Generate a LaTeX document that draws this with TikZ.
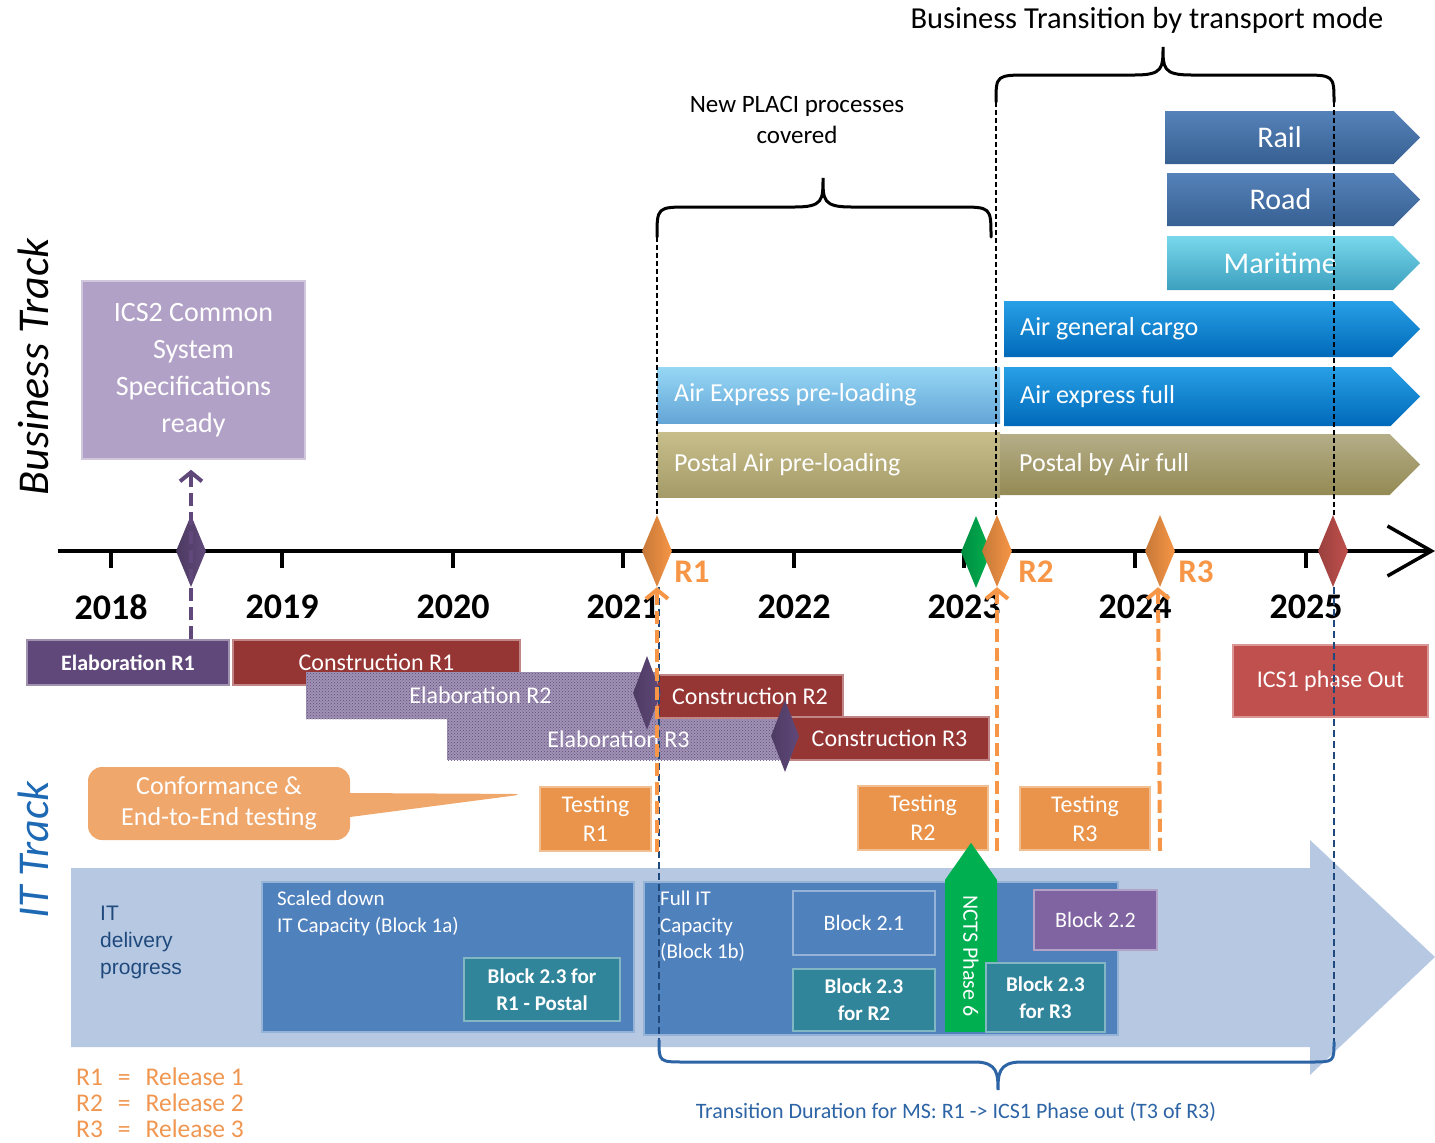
\documentclass[tikz,border=0pt]{standalone}
\usepackage{fontspec}
\setmainfont{Carlito}
\newfontfamily\arialfont{Liberation Sans}
\usetikzlibrary{shapes.geometric,shapes.symbols,shapes.callouts,arrows.meta,patterns}
\definecolor{icsviolet}{RGB}{178,161,199}
\definecolor{elabpurple}{RGB}{96,73,122}
\definecolor{elabgrey}{RGB}{120,100,150}
\definecolor{consred}{RGB}{150,54,52}
\definecolor{phasered}{RGB}{192,80,77}
\definecolor{testorange}{RGB}{233,148,74}
\definecolor{calloutorange}{RGB}{239,167,108}
\definecolor{relorange}{RGB}{247,150,70}
\definecolor{nctsgreen}{RGB}{0,176,80}
\definecolor{railblue}{RGB}{55,96,146}
\definecolor{railtop}{RGB}{85,130,185}
\definecolor{maritop}{RGB}{120,215,235}
\definecolor{maribot}{RGB}{60,160,190}
\definecolor{airblue}{RGB}{0,105,185}
\definecolor{airtop}{RGB}{40,160,230}
\definecolor{expresstop}{RGB}{150,215,245}
\definecolor{expressbot}{RGB}{100,165,215}
\definecolor{postaltop}{RGB}{200,190,140}
\definecolor{postalbot}{RGB}{165,155,105}
\definecolor{postalfull}{RGB}{148,138,84}
\definecolor{itback}{RGB}{183,201,226}
\definecolor{itbox}{RGB}{79,129,189}
\definecolor{blockteal}{RGB}{49,133,155}
\definecolor{blockviolet}{RGB}{128,100,162}
\definecolor{itnavy}{RGB}{31,73,125}
\definecolor{bracenavy}{RGB}{45,100,165}
\definecolor{legendorange}{RGB}{240,150,80}
\definecolor{tracktext}{RGB}{30,105,180}

\begin{document}
\begin{tikzpicture}[x=1pt,y=-1pt,
  box/.style={draw=#1!60!white,fill=#1,line width=1.5pt,text=white,align=center,inner sep=0pt},
  elab/.style={preaction={fill=elabgrey!70!white},pattern=crosshatch dots,pattern color=elabpurple,text=white,inner sep=0pt},
  mile/.style={shape=diamond,inner sep=0pt,minimum width=30pt,minimum height=72pt,left color=#1!80!black,right color=#1},
  banner/.style={shape=signal,signal to=east,signal pointer angle=90,inner sep=0pt,text=white,anchor=west},
  plainbar/.style={rectangle,inner sep=0pt,anchor=west},
  bantxt/.style={text=white,anchor=west,inner sep=0pt,font=\fontsize{26}{30}\selectfont},
  yr/.style={font=\fontsize{36}{40}\selectfont\bfseries},
  rel/.style={text=relorange,font=\fontsize{33}{36}\selectfont\bfseries},
  reldash/.style={relorange,line width=4pt,dash pattern=on 13pt off 6pt,-{Straight Barb[length=9pt,width=22pt,line width=4pt]}},
  thindash/.style={black,line width=1.3pt,dash pattern=on 5pt off 3pt},
  navydash/.style={itnavy,line width=2pt,dash pattern=on 7pt off 4pt},
  brc/.style={line width=3pt,line cap=round}]
\useasboundingbox (0,0) rectangle (1435,1143);

% IT delivery arrow in the background
\fill[itback] (71,868) -- (1310,868) -- (1310,840) -- (1435,957) -- (1310,1075) -- (1310,1047) -- (71,1047) -- cycle;

% track titles
\node[rotate=90,font=\fontsize{44}{48}\selectfont\itshape] (bt) at (33,367) {Business Track};
\node[rotate=90,text=tracktext,font=\fontsize{44}{48}\selectfont\itshape] (itt) at (33,850) {IT Track};

% headings and braces
\node[font=\fontsize{30.5}{34}\selectfont] (trans) at (1147,20) {Business Transition by transport mode};
\node[font=\fontsize{25}{31}\selectfont,align=center] (placi) at (797,120) {New PLACI processes\\covered};
\draw[brc] (657,237) .. controls (657,207) .. (690,207) -- (795,207) .. controls (823,207) and (823,200) .. (823,178)
  .. controls (823,200) and (823,207) .. (851,207) -- (958,207) .. controls (991,207) .. (991,237);
\draw[brc] (996,102) .. controls (996,75) .. (1030,75) -- (1135,75) .. controls (1163,75) and (1163,68) .. (1163,47)
  .. controls (1163,68) and (1163,75) .. (1191,75) -- (1300,75) .. controls (1334,75) .. (1334,102);
\coordinate (pl) at (657,237);
\coordinate (tr1) at (996,102);
\coordinate (tr2) at (1334,102);

% business transition bars
\node[plainbar,top color=expresstop,bottom color=expressbot,minimum width=343pt,minimum height=56pt] (aexp) at (657,395) {};
\node[plainbar,top color=postaltop,bottom color=postalbot,minimum width=343pt,minimum height=65pt] (ppre) at (657,464.5) {};
\node[banner,top color=railtop,bottom color=railblue,minimum width=255pt,minimum height=53pt,font=\fontsize{30}{34}\selectfont] (rail) at (1165,137.5) {Rail};
\node[banner,top color=railtop,bottom color=railblue,minimum width=253pt,minimum height=53pt,font=\fontsize{30}{34}\selectfont] (road) at (1167,199.5) {Road};
\node[banner,top color=maritop,bottom color=maribot,minimum width=253pt,minimum height=54pt,font=\fontsize{30}{34}\selectfont] (mari) at (1167,263) {Maritime};
\node[banner,top color=airtop,bottom color=airblue,minimum width=416pt,minimum height=56pt] (airc) at (1004,329) {};
\node[banner,top color=airtop,bottom color=airblue,minimum width=416pt,minimum height=59pt] (airx) at (1004,396.5) {};
\node[banner,top color=postalfull!70!white,bottom color=postalfull,minimum width=420pt,minimum height=61pt] (pfull) at (1000,464.5) {};
\node[bantxt] (aexpT) at ([xshift=17pt]aexp.west) {Air Express pre-loading};
\node[bantxt] (ppreT) at ([xshift=17pt]ppre.west) {Postal Air pre-loading};
\node[bantxt] (aircT) at ([xshift=16pt]airc.west) {Air general cargo};
\node[bantxt] (airxT) at ([xshift=16pt]airx.west) {Air express full};
\node[bantxt] (pfullT) at ([xshift=19pt]pfull.west) {Postal by Air full};

% ICS2 specifications
\node[box=icsviolet,minimum width=223pt,minimum height=178pt,font=\fontsize{28}{37}\selectfont] (ics2) at (193.5,370) {ICS2 Common\\System\\Specifications\\ready};

% timeline
\draw[line width=3.5pt,-{Straight Barb[length=44pt,width=50pt,line width=3.5pt]}] (58,551) -- (1435,551);
\foreach \x/\y in {111/2018,282/2019,453/2020,623/2021,794/2022,964/2023,1135/2024,1306/2025} {
  \draw[line width=3.5pt] (\x,551) -- (\x,568);
  \node[yr] (yr\y) at (\x,607) {\y};
}

% development bars
\node[box=elabpurple,minimum width=202pt,minimum height=45pt,font=\fontsize{22}{26}\selectfont\bfseries] (el1) at (128,662.5) {Elaboration R1};
\node[box=consred,minimum width=287pt,minimum height=45pt,font=\fontsize{24}{28}\selectfont] (co1) at (376.5,662.5) {Construction R1};
\node[elab,minimum width=349pt,minimum height=47pt,font=\fontsize{24}{28}\selectfont] (el2) at (480.5,695.5) {Elaboration R2};
\node[elab,minimum width=343pt,minimum height=41pt,font=\fontsize{24}{28}\selectfont] (el3) at (618.5,739.5) {Elaboration R3};
\node[box=consred,minimum width=186pt,minimum height=43pt,font=\fontsize{24}{28}\selectfont] (co2) at (750,696.5) {Construction R2};
\node[box=consred,minimum width=199pt,minimum height=43pt,font=\fontsize{24}{28}\selectfont] (co3) at (889.5,738.5) {Construction R3};
\node[mile=elabpurple,minimum width=28pt,minimum height=74pt] (e2d) at (647,693) {};
\node[mile=elabpurple,minimum width=28pt,minimum height=72pt] (e3d) at (785,736) {};
\node[box=phasered,minimum width=195pt,minimum height=72pt,font=\fontsize{24}{28}\selectfont] (ics1) at (1330.5,681) {ICS1 phase Out};

% testing
\node[shape=rectangle callout,rounded corners=14pt,fill=calloutorange,callout absolute pointer={(526,794)},callout pointer width=24pt,
  minimum width=262pt,minimum height=73pt,inner sep=0pt,text=white,align=center,font=\fontsize{26}{31}\selectfont] (conf) at (219,803.5) {Conformance \&\\End-to-End testing};
\node[box=testorange,minimum width=111pt,minimum height=64pt,font=\fontsize{24}{29}\selectfont] (tst1) at (595.5,819) {Testing\\R1};
\node[box=testorange,minimum width=130pt,minimum height=64pt,font=\fontsize{24}{29}\selectfont] (tst2) at (923,818) {Testing\\R2};
\node[box=testorange,minimum width=130pt,minimum height=63pt,font=\fontsize{24}{29}\selectfont] (tst3) at (1085,818.5) {Testing\\R3};

% IT delivery blocks
\node[text=itnavy,align=left,anchor=west,inner sep=0pt,font=\arialfont\fontsize{21}{27}\selectfont] (itdp) at (100,942) {IT\\delivery\\progress};
\node[box=itbox,minimum width=372pt,minimum height=150pt] (sd) at (448,957) {};
\node[box=itbox,minimum width=474pt,minimum height=153pt] (fi) at (881,958.5) {};
\node[text=white,align=left,anchor=north west,inner sep=0pt,font=\fontsize{21}{27}\selectfont] (sdT) at (277,891) {Scaled down\\IT Capacity (Block 1a)};
\node[text=white,align=left,anchor=north west,inner sep=0pt,font=\fontsize{21}{26.5}\selectfont] (fiT) at (660,891) {Full IT\\Capacity\\(Block 1b)};
\node[box=blockteal,minimum width=156pt,minimum height=63pt,font=\fontsize{21}{27}\selectfont\bfseries] (b23a) at (542,989.5) {Block 2.3 for\\R1 - Postal};
\node[box=itbox,minimum width=142pt,minimum height=64pt,font=\fontsize{22}{27}\selectfont] (b21) at (864,923) {Block 2.1};
\node[box=blockteal,minimum width=142pt,minimum height=62pt,font=\fontsize{21}{27}\selectfont\bfseries] (b23b) at (864,1000) {Block 2.3\\for R2};
\node[shape=signal,signal to=west,signal pointer angle=70,rotate=-90,fill=nctsgreen,anchor=east,inner sep=0pt,
  minimum width=189pt,minimum height=52pt,text=white,font=\fontsize{22}{26}\selectfont] (ncts) at (971,1032) {NCTS Phase 6};
\node[box=blockviolet,minimum width=123pt,minimum height=60pt,font=\fontsize{22}{27}\selectfont] (b22) at (1095.5,920) {Block 2.2};
\node[box=blockteal,minimum width=119pt,minimum height=69pt,font=\fontsize{21}{27}\selectfont\bfseries] (b23c) at (1045.5,997.5) {Block 2.3\\for R3};

% milestones
\node[mile=elabpurple] (ms0) at (191,551) {};
\node[mile=relorange] (rel1) at (657,551) {};
\node[mile=nctsgreen] (ncd) at (976,552) {};
\node[mile=relorange] (rel2) at (997,551) {};
\node[mile=relorange] (rel3) at (1160,551) {};
\node[mile=phasered] (ics1d) at (1333,551) {};
\node[rel] (rl1) at (692,572) {R1};
\node[rel] (rl2) at (1036,572) {R2};
\node[rel] (rl3) at (1196,572) {R3};

% dashed connectors
\draw[thindash] (pl) -- (rel1.north);
\draw[thindash] (tr1) -- (rel2.north -| tr1);
\draw[thindash] (tr2) -- (ics1d.north -| tr2);
\coordinate (tb1) at (659,1040);
\coordinate (tb2) at (1334,1042);
\draw[navydash] (rel1.south -| tb1) -- (tb1);
\draw[navydash] (ics1d.south -| tb2) -- (tb2);
\draw[reldash] (rel1 |- tst1.south) -- (rel1.south);
\draw[reldash] (rel2 |- tst2.south) -- (rel2.south);
\draw[reldash] (rel3 |- tst3.south) -- ([xshift=-2pt]rel3.south);
\draw[elabpurple,line width=4pt,dash pattern=on 13pt off 6pt,-{Straight Barb[length=9pt,width=22pt,line width=4pt]},shorten >=10pt]
  (ms0 |- el1.north) -- (ics2.south -| ms0);

% transition duration brace
\draw[brc,bracenavy] (tb1) .. controls (659,1062) .. (685,1062) -- (975,1062) .. controls (998,1062) and (998,1075) .. (998,1090)
  .. controls (998,1075) and (998,1062) .. (1021,1062) -- (1310,1062) .. controls (1334,1062) .. (tb2);
\node[text=bracenavy,font=\fontsize{22}{26}\selectfont] (tdur) at (956,1112) {Transition Duration for MS: R1 -> ICS1 Phase out (T3 of R3)};

% legend
\node[text=legendorange,align=left,anchor=west,inner sep=0pt,font=\fontsize{25.5}{26}\selectfont] (leg) at (76,1103) {R1\hspace{15pt}=\hspace{15pt}Release 1\\R2\hspace{15pt}=\hspace{15pt}Release 2\\R3\hspace{15pt}=\hspace{15pt}Release 3};
\end{tikzpicture}
\end{document}
